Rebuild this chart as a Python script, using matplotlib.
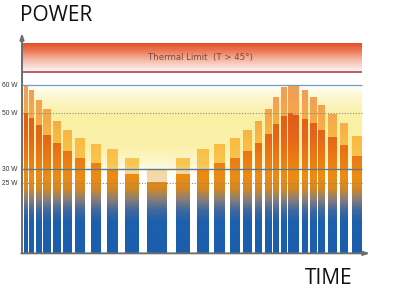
import numpy as np
import matplotlib
matplotlib.use("Agg")
import matplotlib.pyplot as plt
from matplotlib.colors import LinearSegmentedColormap

# time slots (start, duration) in arbitrary time units
t_start = [2, 7, 13.7, 21, 30.7, 40.7, 53, 69, 84.7, 103, 125,
           154, 175, 192, 208, 221.3, 233, 243, 251.3, 259, 265.7,
           271.3, 279.5, 287.5, 296.3, 306.3, 318, 329.7]
t_dur = [3.3, 4.3, 5.3, 7.3, 8, 8.3, 9.3, 10, 11, 13.3, 20,
         13.3, 11.3, 11, 9.5, 8.7, 7, 6.5, 5.7, 5.5, 4.3,
         5.7, 6, 6.2, 7, 8.4, 8, 10]
# sustained power and peak power (W)
power_sustained = [49.8, 48, 45.4, 42.1, 39, 36.1, 33.7, 31.8, 29.9, 28, 25.1,
                   28, 29.9, 31.9, 33.7, 36.2, 39.1, 42.2, 45.8, 48.9, 49.8,
                   49, 47.8, 46.1, 43.6, 41.3, 38.3, 34.3]
power_peak = [59.6, 58.1, 54.6, 51.1, 47.1, 43.8, 40.8, 38.6, 36.8, 33.9, 29.9,
              33.8, 36.8, 38.6, 40.9, 43.8, 47.1, 51.1, 55.5, 59, 59.8,
              59.4, 57.9, 55.6, 52.7, 49.5, 46.2, 41.5]

levels = [25, 30, 50, 60]
level_labels = ["25 W", "30 W", "50 W", "60 W"]
thermal_limit = 64.3
thermal_top = 74.6
t_end = 340

YMAX = (252.5 - 33) / 2.8
XMAX = 348

fig = plt.figure(figsize=(3.98, 2.90), dpi=100)
ax = fig.add_axes([22 / 398, 1 - 252.5 / 290, XMAX / 398, (252.5 - 33) / 290])

full = (0, XMAX, 0, YMAX)
grad = np.linspace(0, YMAX, 400).reshape(-1, 1)

cm_main = LinearSegmentedColormap.from_list("main", [
    (0.0, "#1a5eae"), (11 / 60, "#1c60ad"), (15 / 60, "#4068a0"),
    (19 / 60, "#8a7f78"), (23 / 60, "#d8881f"), (27 / 60, "#ee8c12"),
    (33 / 60, "#ec7c14"), (41 / 60, "#e6661a"), (1.0, "#df501a")])
cm_peak = LinearSegmentedColormap.from_list("peak", [
    (0.0, "#f4dcb0"), (5 / 40, "#f5d8a2"), (7 / 40, "#f9c650"),
    (16 / 40, "#f9bb44"), (24 / 40, "#f5a94a"), (31 / 40, "#f2a055"),
    (1.0, "#f09c58")])

# yellow glow behind the bars
cm_glow = LinearSegmentedColormap.from_list("glow", [
    (0.0, "#ffffff"), (0.12, "#fdf8d8"), (0.3, "#fbf1ac"),
    (0.65, "#faf0a2"), (0.85, "#fdf6cc"), (1.0, "#ffffff")])
ax.imshow(np.linspace(0, 1, 200).reshape(-1, 1), extent=(0, t_end, 27, 60),
          origin="lower", aspect="auto", cmap=cm_glow, zorder=0)

# thermal band
cm_band = LinearSegmentedColormap.from_list("band", [
    (0.0, "#fdf2ef"), (0.2, "#f9d6cc"), (0.45, "#f4b09a"),
    (0.7, "#ee7c58"), (1.0, "#e44e26")])
ax.imshow(np.linspace(0, 1, 200).reshape(-1, 1),
          extent=(0, t_end, thermal_limit + 0.6, thermal_top),
          origin="lower", aspect="auto", cmap=cm_band, zorder=0)

bars = ax.bar(t_start, power_sustained, width=t_dur, align="edge",
              facecolor="none", edgecolor="none", zorder=2)
for b in bars:
    im = ax.imshow(grad, extent=full, origin="lower", aspect="auto",
                   cmap=cm_main, vmin=0, vmax=60, zorder=2)
    im.set_clip_path(b)

peak = np.array(power_peak) - np.array(power_sustained)
bars2 = ax.bar(t_start, peak, bottom=power_sustained, width=t_dur, align="edge",
               facecolor="none", edgecolor="none", zorder=2)
for b in bars2:
    im = ax.imshow(grad, extent=full, origin="lower", aspect="auto",
                   cmap=cm_peak, vmin=24, vmax=64, zorder=2)
    im.set_clip_path(b)

ax.hlines(thermal_limit, 0, t_end, color="#b0505c", lw=1.3, zorder=4)
ax.hlines(60, 0, t_end, color="#6c9ec8", lw=0.9, zorder=4)
ax.hlines(50, 0, t_end, color="#8a8a7a", lw=0.8, ls=(0, (1, 1.5)), zorder=4)
ax.hlines(30, 0, t_end, color="#5d7b8c", lw=1.0, zorder=4)
ax.hlines(25, 0, t_end, color="#8a8a7a", lw=0.8, ls=(0, (1, 1.5)), zorder=4)

ax.text(t_end / 2 + 8, 69.6, "Thermal Limit  (T > 45°)", ha="center", va="center",
        fontsize=6.2, color="#7a4a40", family="DejaVu Sans", zorder=5)

# axes with arrows
ax.annotate("", xy=(0, YMAX), xytext=(0, -0.3),
            arrowprops=dict(arrowstyle="-|>,head_length=0.35,head_width=0.12",
                            color="#6e6e6e", lw=1.4, shrinkA=0, shrinkB=0),
            zorder=6, annotation_clip=False)
ax.annotate("", xy=(XMAX, -0.3), xytext=(-0.7, -0.3),
            arrowprops=dict(arrowstyle="-|>,head_length=0.35,head_width=0.12",
                            color="#6e6e6e", lw=1.4, shrinkA=0, shrinkB=0),
            zorder=6, annotation_clip=False)

ax.set_xlim(0, XMAX)
ax.set_ylim(0, YMAX)
for s in ax.spines.values():
    s.set_visible(False)
ax.set_xticks([])
ax.set_yticks(levels)
ax.set_yticklabels(level_labels, fontsize=4.8, color="#333333",
                   family="Liberation Sans")
ax.tick_params(axis="y", length=0, pad=3)
ax.patch.set_alpha(0)

fig.text(20 / 398, 1 - 5 / 290, "POWER", ha="left", va="top", fontsize=15,
         family="Open Sans", color="#111111")
fig.text(305 / 398, 1 - 268 / 290, "TIME", ha="left", va="top", fontsize=15,
         family="Open Sans", color="#111111")

fig.savefig("out.png", dpi=100, facecolor="white")
